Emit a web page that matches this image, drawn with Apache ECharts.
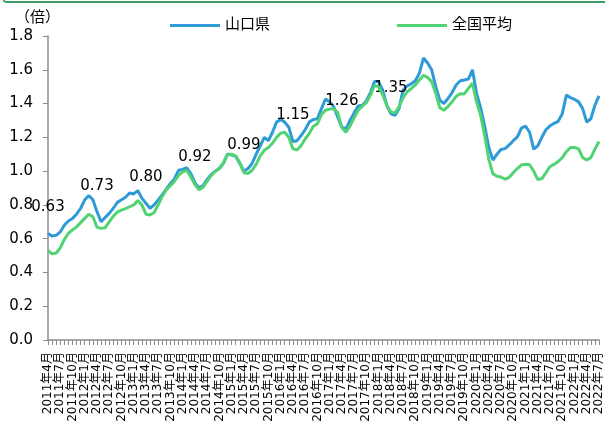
<!DOCTYPE html>
<html>
<head>
<meta charset="utf-8">
<script src="https://cdn.jsdelivr.net/npm/echarts@6/dist/echarts.min.js"></script>
<style>html,body{margin:0;padding:0;background:#fff}#c{width:605px;height:432px}</style>
</head>
<body>
<div id="c"></div>
<script>
// categories: monthly from 2011年4月 (136 months)
const startYear = 2011, startMonth = 4, monthCount = 136;
const categories = [];
for (let k = 0; k < monthCount; k++) {
  const t = (startMonth - 1) + k;
  categories.push((startYear + Math.floor(t / 12)) + '年' + (t % 12 + 1) + '月');
}
const seriesNames = ['山口県', '全国平均'];
const yamaguchi = [
0.63,0.615,0.62,0.64,0.68,0.705,0.72,0.745,0.78,0.83,0.855,0.83,
0.76,0.70,0.725,0.75,0.78,0.815,0.83,0.845,0.87,0.865,0.885,0.84,
0.81,0.78,0.80,0.83,0.86,0.895,0.927,0.955,1.005,1.01,1.02,0.985,
0.93,0.90,0.915,0.95,0.98,1.00,1.015,1.047,1.10,1.096,1.087,1.045,
1.00,1.015,1.045,1.10,1.15,1.20,1.18,1.23,1.29,1.305,1.29,1.26,
1.175,1.18,1.21,1.245,1.29,1.305,1.31,1.37,1.427,1.41,1.38,1.32,
1.26,1.25,1.30,1.345,1.385,1.39,1.415,1.465,1.53,1.53,1.48,1.39,
1.34,1.33,1.37,1.48,1.505,1.517,1.535,1.58,1.67,1.64,1.60,1.50,
1.42,1.40,1.43,1.465,1.51,1.535,1.54,1.545,1.60,1.46,1.375,1.265,
1.14,1.065,1.10,1.128,1.133,1.155,1.18,1.203,1.255,1.266,1.23,1.13,
1.15,1.20,1.245,1.268,1.283,1.295,1.34,1.45,1.435,1.425,1.41,1.37,
1.29,1.31,1.39,1.445
];
const zenkoku = [
0.53,0.51,0.515,0.545,0.595,0.632,0.652,0.67,0.695,0.72,0.745,0.73,
0.668,0.661,0.665,0.70,0.733,0.758,0.769,0.778,0.789,0.80,0.825,0.80,
0.745,0.74,0.755,0.80,0.85,0.89,0.914,0.94,0.975,0.995,1.005,0.965,
0.92,0.889,0.905,0.94,0.975,1.00,1.017,1.05,1.10,1.10,1.09,1.05,
0.99,0.986,1.005,1.04,1.09,1.123,1.14,1.165,1.20,1.225,1.23,1.20,
1.133,1.125,1.15,1.19,1.222,1.265,1.28,1.335,1.36,1.367,1.37,1.345,
1.257,1.23,1.268,1.315,1.36,1.385,1.405,1.45,1.507,1.50,1.452,1.39,
1.35,1.345,1.38,1.435,1.47,1.488,1.51,1.54,1.567,1.555,1.53,1.46,
1.375,1.36,1.383,1.41,1.443,1.458,1.457,1.49,1.52,1.41,1.33,1.21,
1.07,0.985,0.97,0.965,0.952,0.963,0.99,1.015,1.037,1.041,1.038,1.0,
0.95,0.955,0.99,1.027,1.04,1.057,1.08,1.115,1.14,1.14,1.132,1.08,
1.066,1.08,1.13,1.175
];
// annotated April values (山口県)
const annotMonths = ['2011年4月','2012年4月','2013年4月','2014年4月','2015年4月','2016年4月','2017年4月','2018年4月'];
const annotTexts = ['0.63','0.73','0.80','0.92','0.99','1.15','1.26','1.35'];
const yTicks = [0, 0.2, 0.4, 0.6, 0.8, 1.0, 1.2, 1.4, 1.6, 1.8];

const FONT = "'DejaVu Sans', 'Noto Sans CJK JP', sans-serif";
const BLUE = '#2E9AD7', GREEN = '#52D373';
const blueData = yamaguchi.map((v, i) => {
  const a = annotMonths.indexOf(categories[i]);
  if (a < 0) return v;
  return {
    value: v,
    symbol: 'circle', symbolSize: 1,
    label: {
      show: true, position: 'top', distance: 18,
      formatter: () => annotTexts[a],
      color: '#000', fontSize: 15, fontFamily: FONT
    }
  };
});

const chart = echarts.init(document.getElementById('c'), null, {renderer: 'canvas'});
chart.setOption({
  animation: false,
  backgroundColor: '#fff',
  textStyle: {fontFamily: FONT},
  title: {text: '（倍）', left: 10, top: 6, textStyle: {fontSize: 15, fontWeight: 'normal', color: '#000', fontFamily: FONT}},
  graphic: [{
    type: 'polyline', silent: true,
    shape: {points: [[4, 0], [4, 1], [6, 2], [605, 2]]},
    style: {fill: null, stroke: '#3f9d62', lineWidth: 2}
  }],
  legend: {
    data: seriesNames, left: 170, top: 18, icon: 'rect', itemWidth: 50, itemHeight: 3,
    itemGap: 127, padding: 0, textStyle: {fontSize: 15, color: '#000', fontFamily: FONT}
  },
  grid: {left: 48, right: 0, top: 36, bottom: 92, containLabel: false},
  xAxis: {
    type: 'category', data: categories, boundaryGap: false,
    axisLine: {lineStyle: {color: '#8c8c8c', width: 1.5}},
    axisTick: {show: true, interval: 0, length: 5, lineStyle: {color: '#8c8c8c'}},
    axisLabel: {interval: 2, rotate: 90, fontSize: 12, color: '#000', margin: 12, fontFamily: FONT, hideOverlap: false},
    splitLine: {show: false}
  },
  yAxis: {
    type: 'value', min: 0, max: 1.8, interval: 0.2,
    axisLine: {show: true, lineStyle: {color: '#8c8c8c', width: 1.5}},
    axisTick: {show: true, length: 5, lineStyle: {color: '#8c8c8c'}},
    axisLabel: {fontSize: 15, color: '#000', margin: 15, fontFamily: FONT,
      formatter: v => (yTicks.find(t => Math.abs(t - v) < 1e-6) ?? v).toFixed(1)},
    splitLine: {show: false}
  },
  series: [
    {name: seriesNames[0], type: 'line', data: blueData, symbol: 'none', showSymbol: true, showAllSymbol: true,
     lineStyle: {color: BLUE, width: 3}, itemStyle: {color: BLUE}, z: 2},
    {name: seriesNames[1], type: 'line', data: zenkoku, symbol: 'none', showSymbol: false,
     lineStyle: {color: GREEN, width: 3}, itemStyle: {color: GREEN}, z: 3}
  ]
});
</script>
</body>
</html>
